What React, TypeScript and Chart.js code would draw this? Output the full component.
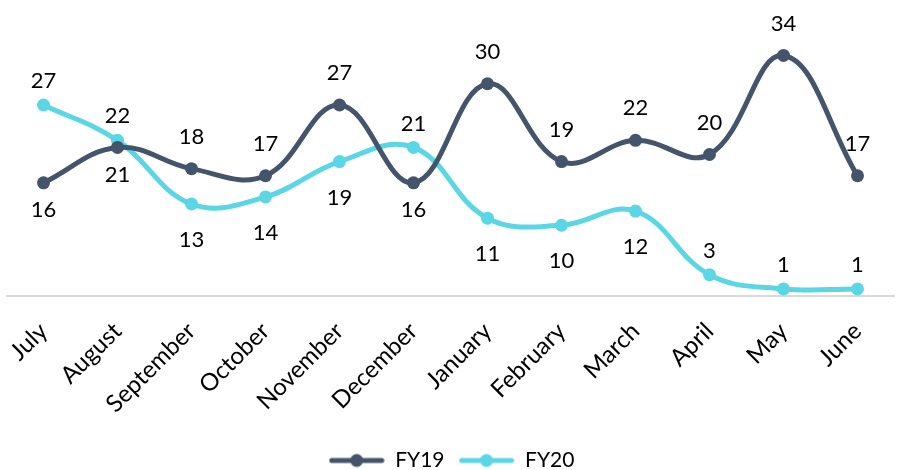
import React, { useEffect, useRef } from "react";
import { Chart, registerables } from "chart.js";

Chart.register(...registerables);

const months = ["July", "August", "September", "October", "November", "December", "January", "February", "March", "April", "May", "June"];
const fy19 = [16, 21, 18, 17, 27, 16, 30, 19, 22, 20, 34, 17];
const fy20 = [27, 22, 13, 14, 19, 21, 11, 10, 12, 3, 1, 1];
const fy19LabelPos = ["below", "below", "above", "above", "above", "below", "above", "above", "above", "above", "above", "above"];
const fy20LabelPos = ["above", "above", "below", "below", "below", "above", "below", "below", "below", "above", "above", "above"];

const C19 = "#44546A";
const C20 = "#5AD6E4";
const FONT = "Lato, 'Open Sans', sans-serif";

function legendIcon(color: string) {
  const c = document.createElement("canvas");
  c.width = 56;
  c.height = 16;
  const ctx = c.getContext("2d")!;
  ctx.strokeStyle = color;
  ctx.lineWidth = 5;
  ctx.lineCap = "round";
  ctx.beginPath();
  ctx.moveTo(3, 8);
  ctx.lineTo(53, 8);
  ctx.stroke();
  ctx.fillStyle = color;
  ctx.beginPath();
  ctx.arc(28, 8, 6.5, 0, Math.PI * 2);
  ctx.fill();
  return c;
}

const labelPlugin = {
  id: "valueLabels",
  afterDatasetsDraw(chart: any) {
    const ctx = chart.ctx;
    ctx.save();
    ctx.font = `22px ${FONT}`;
    ctx.fillStyle = "#000";
    ctx.textAlign = "center";
    ctx.textBaseline = "middle";
    chart.data.datasets.forEach((ds: any, di: number) => {
      const meta = chart.getDatasetMeta(di);
      const pos = ds.labelPos as string[];
      meta.data.forEach((pt: any, i: number) => {
        const v = ds.data[i];
        const y = pos[i] === "above" ? pt.y - ds.labelAbove : pt.y + ds.labelBelow;
        ctx.fillText(String(v), pt.x, y);
      });
    });
    ctx.restore();
  },
};

export default function App() {
  const ref = useRef<HTMLCanvasElement>(null);
  useEffect(() => {
    if (!ref.current) return;
    const icons = [legendIcon(C19), legendIcon(C20)];
    const chart = new Chart(ref.current, {
      type: "line",
      data: {
        labels: months,
        datasets: [
          {
            label: "FY19",
            data: fy19,
            borderColor: C19,
            backgroundColor: C19,
            borderWidth: 5,
            pointRadius: 6.5,
            pointBackgroundColor: C19,
            pointBorderWidth: 0,
            tension: 0.4,
            labelPos: fy19LabelPos,
            labelAbove: 32,
            labelBelow: 27,
          } as any,
          {
            label: "FY20",
            data: fy20,
            borderColor: C20,
            backgroundColor: C20,
            borderWidth: 5,
            pointRadius: 6.5,
            pointBackgroundColor: C20,
            pointBorderWidth: 0,
            tension: 0.4,
            labelPos: fy20LabelPos,
            labelAbove: 24,
            labelBelow: 36,
          } as any,
        ],
      },
      options: {
        animation: false,
        responsive: true,
        maintainAspectRatio: false,
        layout: { padding: { top: 13, left: 2, right: 0, bottom: -11 } },
        scales: {
          x: {
            offset: true,
            grid: { display: false },
            border: { display: true, color: "#D9D9D9", width: 2 },
            ticks: {
              color: "#000",
              font: { family: FONT, size: 24 },
              minRotation: 45,
              maxRotation: 45,
              padding: 13,
            },
            afterFit: (s: any) => {
              s.height = 140;
            },
          },
          y: { display: false, min: 0, max: 40 },
        },
        plugins: {
          tooltip: { enabled: false },
          legend: {
            position: "bottom",
            labels: {
              usePointStyle: true,
              pointStyleWidth: 56,
              padding: 14,
              color: "#000",
              font: { family: FONT, size: 21 },
              generateLabels: (ch: any) =>
                Chart.defaults.plugins.legend.labels.generateLabels(ch).map((it: any, i: number) => ({
                  ...it,
                  pointStyle: icons[i],
                })),
            },
          },
        },
      },
      plugins: [labelPlugin],
    });
    return () => chart.destroy();
  }, []);
  return (
    <div style={{ position: "fixed", left: 0, top: 0, width: 901, height: 470, background: "#fff" }}>
      <canvas ref={ref} />
    </div>
  );
}
